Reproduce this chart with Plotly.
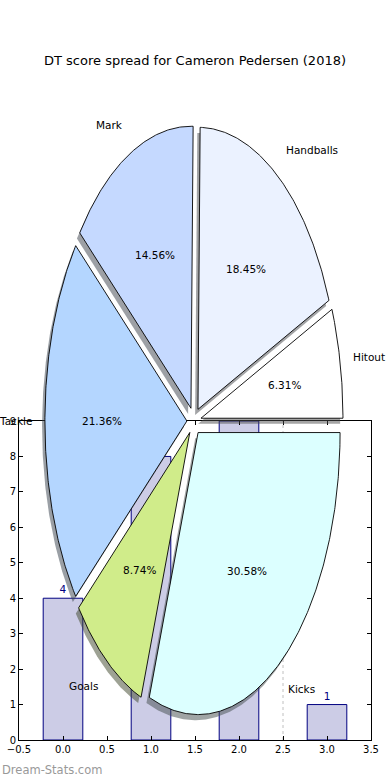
import math
import plotly.graph_objects as go

# ---------------- data ----------------
title_text = "DT score spread for Cameron Pedersen (2018)"
pie_labels = ["Hitout", "Handballs", "Mark", "Tackle", "Goals", "Kicks"]
pie_values = [13, 38, 30, 44, 18, 63]
pie_colors = ["#FFFFFF", "#EBF2FF", "#C5D9FF", "#B4D6FF", "#D0EC8A", "#DCFFFF"]
pie_explode = [0.05, 0.05, 0.05, 0.05, 0.05, 0.05]
bar_x = [0, 1, 2, 3]
bar_values = [4, 8, 9, 1]
x_ticks = [-0.5, 0.0, 0.5, 1.0, 1.5, 2.0, 2.5, 3.0, 3.5]
y_ticks = [0, 1, 2, 3, 4, 5, 6, 7, 8, 9]
divider_x = 2.5
watermark = "Dream-Stats.com"

# ---------------- layout geometry (pixels) ----------------
W, H = 390, 780
bx0, bx1, by0, by1 = 19, 371, 421, 740      # bar axes box
pcx, pcy, prx, pry = 194, 421, 142, 282     # pie centre / radii
LABEL_DIST_X = 1.08
LABEL_DIST_Y = 1.11
PCT_DIST = 0.6
FONT = "DejaVu Sans"

fig = go.Figure()

# ---------------- bar chart ----------------
fig.add_trace(go.Bar(
    x=bar_x, y=bar_values, width=0.45,
    marker=dict(color="#CCCCE6", line=dict(color="#000080", width=1)),
    text=[str(v) for v in bar_values], textposition="outside",
    textfont=dict(family=FONT, size=10.5, color="#000080"),
    xaxis="x", yaxis="y", showlegend=False, hoverinfo="skip",
))

# ---------------- pie (drawn as wedges on an overlay axis) ----------------
total = sum(pie_values)
wedges = []
cum = 0.0
for lab, val, col, ex in zip(pie_labels, pie_values, pie_colors, pie_explode):
    t1 = 360.0 * cum / total
    cum += val
    t2 = 360.0 * cum / total
    mid = math.radians((t1 + t2) / 2)
    cx = ex * math.cos(mid)
    cy = ex * math.sin(mid)
    n = int(abs(t2 - t1) / 0.5) + 2
    xs, ys = [cx], [cy]
    for i in range(n + 1):
        a = math.radians(t1 + (t2 - t1) * i / n)
        xs.append(cx + math.cos(a))
        ys.append(cy + math.sin(a))
    xs.append(cx)
    ys.append(cy)
    wedges.append((lab, val, col, cx, cy, mid, xs, ys))

def shade(hexcol):
    r = int(hexcol[1:3], 16); g = int(hexcol[3:5], 16); b = int(hexcol[5:7], 16)
    return "rgba(%d,%d,%d,0.5)" % (r * 0.3, g * 0.3, b * 0.3)

# shadows first
for lab, val, col, cx, cy, mid, xs, ys in wedges:
    fig.add_trace(go.Scatter(
        x=[x - 0.02 for x in xs], y=[y - 0.02 for y in ys],
        mode="lines", fill="toself", fillcolor=shade(col),
        line=dict(width=0, color="rgba(0,0,0,0)"),
        xaxis="x2", yaxis="y2", showlegend=False, hoverinfo="skip",
    ))
# wedges
for lab, val, col, cx, cy, mid, xs, ys in wedges:
    fig.add_trace(go.Scatter(
        x=xs, y=ys, mode="lines", fill="toself", fillcolor=col,
        line=dict(width=0.9, color="black"),
        xaxis="x2", yaxis="y2", showlegend=False, hoverinfo="skip",
    ))

annotations = []
for lab, val, col, cx, cy, mid, xs, ys in wedges:
    lx = cx + LABEL_DIST_X * math.cos(mid)
    ly = cy + LABEL_DIST_Y * math.sin(mid)
    annotations.append(dict(
        x=lx, y=ly, xref="x2", yref="y2", text=lab, showarrow=False,
        xanchor="left" if lx > 0 else "right", yanchor="middle",
        font=dict(family=FONT, size=10.5, color="black"),
    ))
    px = cx + PCT_DIST * math.cos(mid)
    py = cy + PCT_DIST * math.sin(mid)
    annotations.append(dict(
        x=px, y=py, xref="x2", yref="y2", text="%.2f%%" % (100.0 * val / total),
        showarrow=False, xanchor="center", yanchor="middle",
        font=dict(family=FONT, size=10.5, color="black"),
    ))

annotations.append(dict(
    x=0.5, y=1 - 61 / H, xref="paper", yref="paper", text=title_text,
    showarrow=False, xanchor="center", yanchor="middle",
    font=dict(family=FONT, size=13, color="black"),
))
annotations.append(dict(
    x=0, y=1 - 770 / H, xref="paper", yref="paper", text=watermark,
    showarrow=False, xanchor="left", yanchor="middle",
    font=dict(family=FONT, size=11.5, color="#999999"),
))

axis_common = dict(
    showline=True, linecolor="black", linewidth=1, mirror="ticks",
    ticks="inside", ticklen=4, tickcolor="black", tickwidth=1,
    showgrid=False, zeroline=False, automargin=False,
    tickfont=dict(family=FONT, size=10, color="black"),
)

fig.update_layout(
    width=W, height=H,
    margin=dict(l=0, r=0, t=0, b=0, pad=0, autoexpand=False),
    paper_bgcolor="white", plot_bgcolor="rgba(0,0,0,0)",
    showlegend=False,
    xaxis=dict(
        domain=[bx0 / W, bx1 / W], range=[-0.5, 3.5], anchor="y",
        tickmode="array", tickvals=x_ticks,
        ticktext=[("%.1f" % v).replace("-", "\u2212") for v in x_ticks],
        **axis_common,
    ),
    yaxis=dict(
        domain=[1 - by1 / H, 1 - by0 / H], range=[0, 9], anchor="x",
        tickmode="array", tickvals=y_ticks, ticktext=[str(v) for v in y_ticks],
        **axis_common,
    ),
    xaxis2=dict(
        domain=[0, 1], range=[(0 - pcx) / prx, (W - pcx) / prx],
        anchor="y2", visible=False, fixedrange=True, automargin=False,
    ),
    yaxis2=dict(
        domain=[0, 1], range=[(pcy - H) / pry, pcy / pry],
        anchor="x2", visible=False, fixedrange=True, automargin=False,
    ),
    shapes=[dict(
        type="line", xref="x", yref="y", x0=divider_x, x1=divider_x, y0=0, y1=9,
        line=dict(color="#C0C0C0", width=1, dash="dot"), layer="below",
    )],
    annotations=annotations,
)

fig.write_html(
    "out.html",
    config={"displayModeBar": False},
    post_script="document.body.style.margin='0';document.body.style.padding='0';",
)
